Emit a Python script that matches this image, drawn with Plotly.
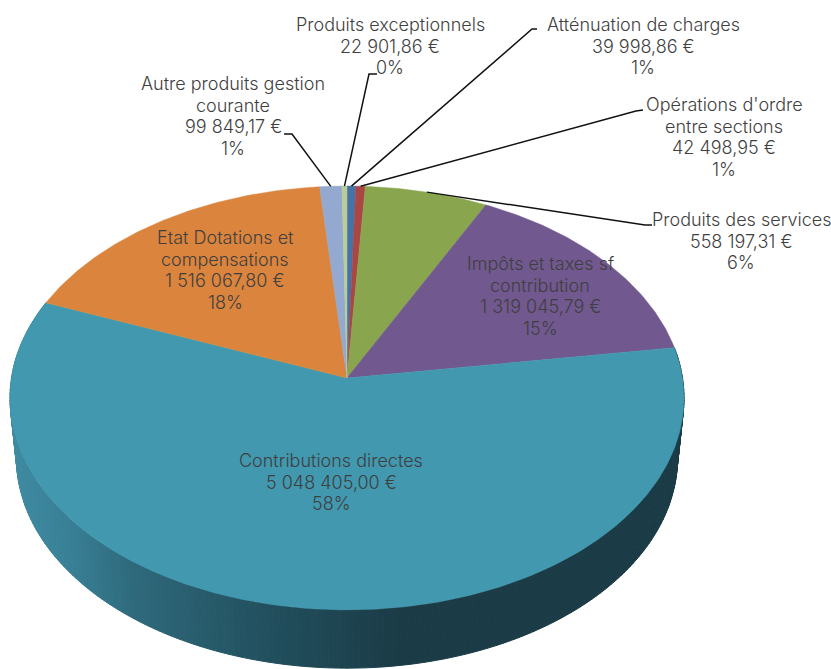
import numpy as np
import plotly.graph_objects as go

# Data, clockwise from 12 o'clock
categories = ["Atténuation de charges", "Opérations d'ordre<br>entre sections", "Produits des services",
              "Impôts et taxes sf<br>contribution", "Contributions directes",
              "Etat Dotations et<br>compensations", "Autre produits gestion<br>courante", "Produits exceptionnels"]
values = [39998.86, 42498.95, 558197.31, 1319045.79, 5048405.00, 1516067.80, 99849.17, 22901.86]
value_labels = ["39 998,86 €", "42 498,95 €", "558 197,31 €", "1 319 045,79 €", "5 048 405,00 €",
                "1 516 067,80 €", "99 849,17 €", "22 901,86 €"]
percent_labels = ["1%", "1%", "6%", "15%", "58%", "18%", "1%", "0%"]
colors = ["#4572A7", "#AA4643", "#89A54E", "#71588F", "#4198AF", "#DB843D", "#93A9CF", "#B9CD96"]

FONT = "Inter"
TXT = "#3f3f3f"

def top(theta):
    u, v = np.sin(theta), np.cos(theta)
    k = 0.0943
    d = 1 + k * v
    return 347 + 335.5 * u / d, 378 - 210 * v / d

def bottom(theta):
    u, v = np.sin(theta), np.cos(theta)
    k = 0.0943
    d = 1 + k * v
    return 347 + 329 * u / d, 438.5 - 208 * v / d

total = sum(values)
edges = 2 * np.pi * np.concatenate([[0], np.cumsum(values)]) / total
fig = go.Figure()

# Side wall of the large slice, shaded by horizontal position
stops_x = [10, 70, 133, 267, 400, 831]
stops_r = [0x40, 0x39, 0x2F, 0x22, 0x1B, 0x1B]
stops_g = [0x8C, 0x80, 0x6A, 0x50, 0x3C, 0x3C]
stops_b = [0xA3, 0x96, 0x7C, 0x5E, 0x47, 0x47]
ts = np.linspace(edges[4], edges[5], 221)
for a, b in zip(ts[:-1], ts[1:]):
    xa, ya = top(a); xb, yb = top(b)
    xc, yc = bottom(b); xd, yd = bottom(a)
    mx = (xa + xb + xc + xd) / 4
    col = "rgb(%d,%d,%d)" % (np.interp(mx, stops_x, stops_r), np.interp(mx, stops_x, stops_g), np.interp(mx, stops_x, stops_b))
    fig.add_trace(go.Scatter(x=[xa, xb, xc, xd, xa], y=[ya, yb, yc, yd, ya], mode="lines", fill="toself",
                             fillcolor=col, line=dict(color=col, width=1), hoverinfo="skip", showlegend=False))

# Top faces
for i, c in enumerate(colors):
    t = np.linspace(edges[i], edges[i + 1], max(4, int((edges[i + 1] - edges[i]) * 90)))
    x, y = top(t)
    fig.add_trace(go.Scatter(x=np.r_[347, x, 347], y=np.r_[378, y, 378], mode="lines", fill="toself",
                             fillcolor=c, line=dict(color=c, width=0.5), hoverinfo="skip", showlegend=False))

# Labels: centre x, centre y in page pixels
label_pos = [(643, 46), (724, 137), (741, 241), (540, 296), (331, 482), (225, 270), (233, 116), (390, 46)]
LINE = 21.6
for name, val, pct, (lx, ly) in zip(categories, value_labels, percent_labels, label_pos):
    lines = name.split("<br>") + [val, pct]
    for j, line in enumerate(lines):
        fig.add_annotation(x=lx, y=ly + (j - (len(lines) - 1) / 2) * LINE, xref="x", yref="y",
                           showarrow=False, align="center", text=line,
                           font=dict(family=FONT, size=18, color=TXT, weight=300))

# Leader lines: from label to the rim at the middle of the slice
elbows = {0: [(537, 29), (532, 29)], 1: [(643, 110), (636, 111)], 2: [(652, 225), (645, 225)],
          6: [(284, 134), (292, 134)], 7: [(377, 74), (369, 74)]}
for i, pts in elbows.items():
    rx, ry = top((edges[i] + edges[i + 1]) / 2)
    xs = [p[0] for p in pts] + [float(rx)]
    ys = [p[1] for p in pts] + [float(ry)]
    fig.add_trace(go.Scatter(x=xs, y=ys, mode="lines", line=dict(color="#111111", width=1.5),
                             hoverinfo="skip", showlegend=False))

fig.update_layout(width=831, height=669, margin=dict(l=0, r=0, t=0, b=0),
                  paper_bgcolor="white", plot_bgcolor="white", showlegend=False,
                  xaxis=dict(range=[0, 831], visible=False, fixedrange=True),
                  yaxis=dict(range=[669, 0], visible=False, fixedrange=True))
fig.write_html("out.html", config=dict(displayModeBar=False),
               post_script="document.body.style.margin='0';document.body.style.overflow='hidden';")
